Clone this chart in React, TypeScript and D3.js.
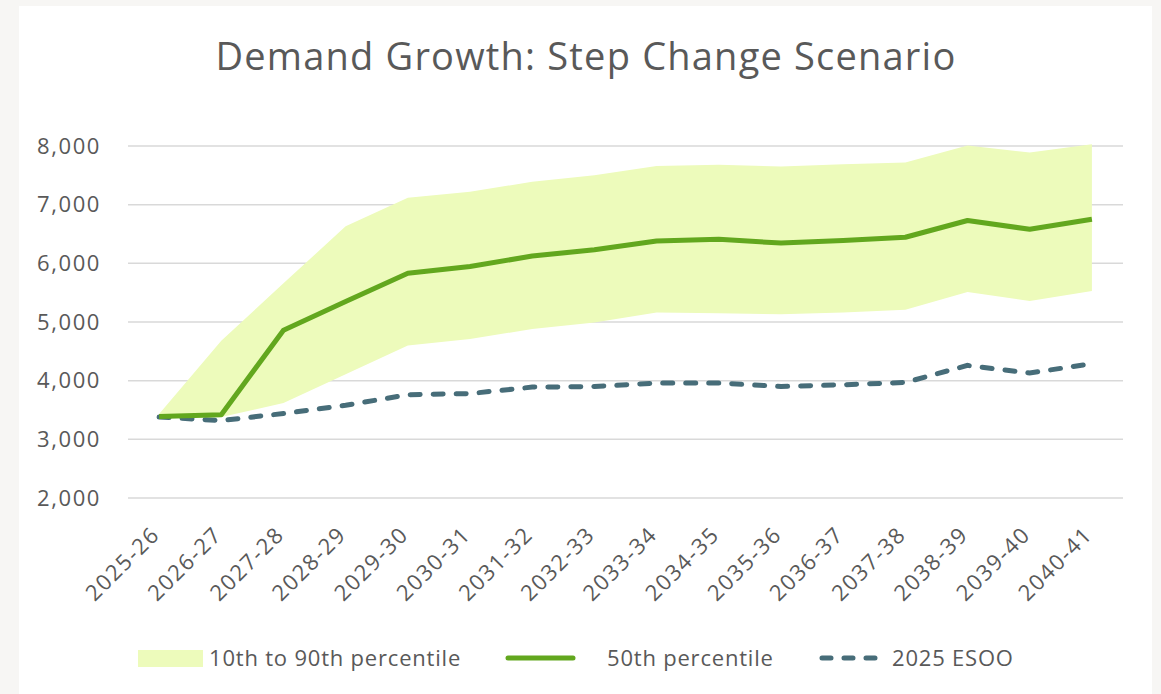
import React, { useEffect, useRef } from "react";
import * as d3 from "d3";

const years = [
  "2025-26", "2026-27", "2027-28", "2028-29", "2029-30", "2030-31", "2031-32", "2032-33",
  "2033-34", "2034-35", "2035-36", "2036-37", "2037-38", "2038-39", "2039-40", "2040-41",
];
const p10 = [3370, 3380, 3620, 4110, 4600, 4710, 4880, 4990, 5160, 5150, 5130, 5160, 5210, 5510, 5360, 5530];
const p90 = [3430, 4680, 5660, 6630, 7120, 7220, 7390, 7500, 7660, 7680, 7650, 7690, 7720, 8010, 7890, 8030];
const p50 = [3390, 3420, 4860, 5350, 5830, 5945, 6125, 6230, 6380, 6410, 6345, 6390, 6445, 6730, 6580, 6750];
const esoo = [3380, 3320, 3440, 3580, 3760, 3780, 3890, 3900, 3960, 3960, 3900, 3930, 3970, 4260, 4130, 4290];
const yTicks = [2000, 3000, 4000, 5000, 6000, 7000, 8000];

const W = 1161;
const H = 694;
const FONT = "'Open Sans', sans-serif";
const TEXT = "#595959";

export default function App() {
  const ref = useRef<SVGSVGElement>(null);

  useEffect(() => {
    const svg = d3.select(ref.current);
    svg.selectAll("*").remove();

    // page + card
    svg.append("rect").attr("width", W).attr("height", H).attr("fill", "#f7f6f4");
    svg.append("rect").attr("x", 19).attr("y", 6).attr("width", 1133).attr("height", 720).attr("fill", "#ffffff");

    const left = 128, right = 1123, top = 146, bottom = 498;

    const x = d3.scalePoint<string>().domain(years).range([left, right]).padding(0.5);
    const y = d3.scaleLinear().domain([2000, 8000]).range([bottom, top]);

    svg
      .append("text")
      .attr("x", 586)
      .attr("y", 70)
      .attr("text-anchor", "middle")
      .attr("font-family", FONT)
      .attr("font-size", 38)
      .attr("letter-spacing", 1.2)
      .attr("fill", TEXT)
      .text("Demand Growth: Step Change Scenario");

    // gridlines
    svg
      .append("g")
      .selectAll("line")
      .data(yTicks)
      .enter()
      .append("line")
      .attr("x1", left)
      .attr("x2", right)
      .attr("y1", (d) => y(d))
      .attr("y2", (d) => y(d))
      .attr("stroke", "#d9d9d9")
      .attr("stroke-width", 1.5);

    svg
      .append("g")
      .selectAll("text")
      .data(yTicks)
      .enter()
      .append("text")
      .attr("x", 101)
      .attr("y", (d) => y(d))
      .attr("dy", "0.35em")
      .attr("text-anchor", "end")
      .attr("font-family", FONT)
      .attr("font-size", 22)
      .attr("letter-spacing", 1.6)
      .attr("fill", TEXT)
      .text((d) => d3.format(",")(d));

    svg
      .append("g")
      .selectAll("text")
      .data(years)
      .enter()
      .append("text")
      .attr("transform", (d) => `translate(${(x(d) as number) + 2}, ${bottom + 38}) rotate(-45)`)
      .attr("text-anchor", "end")
      .attr("font-family", FONT)
      .attr("font-size", 22)
      .attr("letter-spacing", 1.6)
      .attr("fill", TEXT)
      .text((d) => d);

    const idx = d3.range(years.length);

    const band = d3
      .area<number>()
      .x((i) => x(years[i]) as number)
      .y0((i) => y(p10[i]))
      .y1((i) => y(p90[i]));

    svg.append("path").attr("d", band(idx)).attr("fill", "#edfbbb");

    const line = (vals: number[]) =>
      d3
        .line<number>()
        .x((i) => x(years[i]) as number)
        .y((i) => y(vals[i]))(idx);

    svg
      .append("path")
      .attr("d", line(esoo))
      .attr("fill", "none")
      .attr("stroke", "#476d79")
      .attr("stroke-width", 5)
      .attr("stroke-linecap", "round")
      .attr("stroke-dasharray", "10 13");

    svg
      .append("path")
      .attr("d", line(p50))
      .attr("fill", "none")
      .attr("stroke", "#62a71e")
      .attr("stroke-width", 5)
      .attr("stroke-linejoin", "round");

    // legend
    const ly = 658;
    const lg = svg
      .append("g")
      .attr("font-family", FONT)
      .attr("font-size", 22)
      .attr("letter-spacing", 0.8)
      .attr("fill", TEXT);
    lg.append("rect").attr("x", 138).attr("y", ly - 8).attr("width", 65).attr("height", 17).attr("fill", "#edfbbb");
    lg.append("text").attr("x", 209).attr("y", ly).attr("dy", "0.35em").text("10th to 90th percentile");
    lg.append("line")
      .attr("x1", 508).attr("x2", 573).attr("y1", ly).attr("y2", ly)
      .attr("stroke", "#62a71e").attr("stroke-width", 5).attr("stroke-linecap", "round");
    lg.append("text").attr("x", 607).attr("y", ly).attr("dy", "0.35em").text("50th percentile");
    lg.append("line")
      .attr("x1", 822).attr("x2", 879).attr("y1", ly).attr("y2", ly)
      .attr("stroke", "#476d79").attr("stroke-width", 5).attr("stroke-linecap", "round")
      .attr("stroke-dasharray", "9 13");
    lg.append("text").attr("x", 892).attr("y", ly).attr("dy", "0.35em").text("2025 ESOO");
  }, []);

  return (
    <svg
      ref={ref}
      width={W}
      height={H}
      style={{ position: "absolute", left: 0, top: 0, display: "block" }}
    />
  );
}
